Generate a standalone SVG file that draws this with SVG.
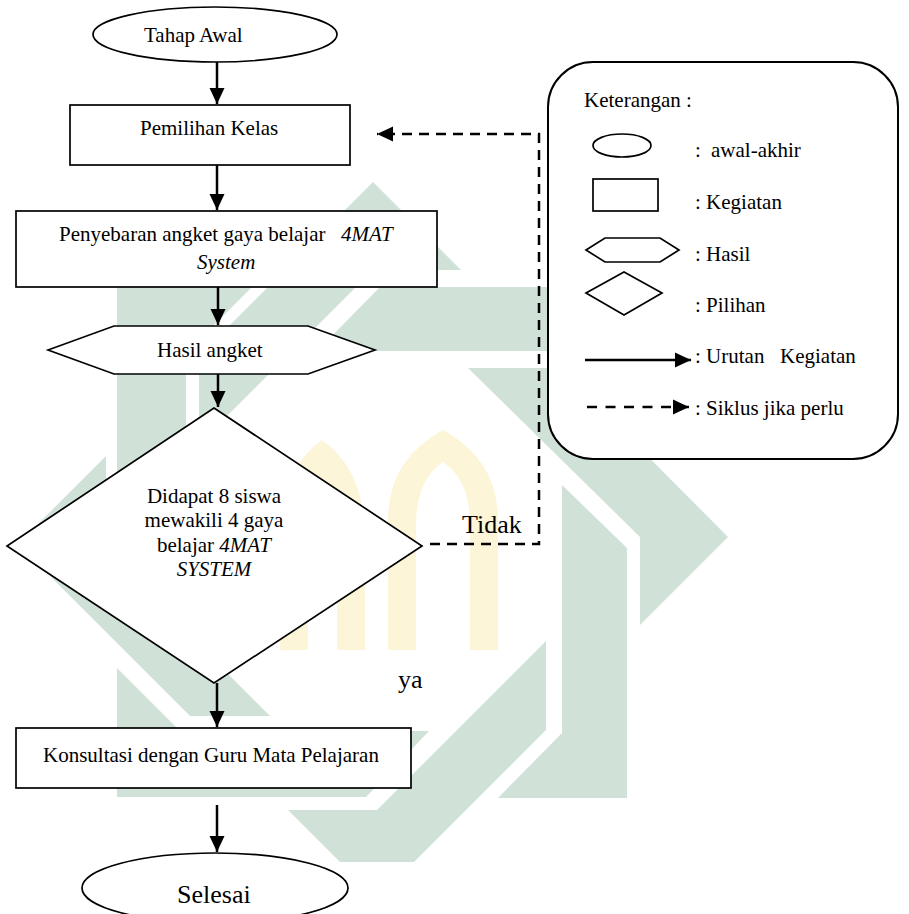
<svg xmlns="http://www.w3.org/2000/svg" width="909" height="914" viewBox="0 0 909 914">
<defs>
<marker id="ah" markerUnits="userSpaceOnUse" markerWidth="16" markerHeight="16" viewBox="0 0 16 16" refX="16" refY="8" orient="auto"><path d="M0,0.5 L16,8 L0,15.5 Z" fill="#000"/></marker>
</defs>
<style>
.wm{fill:#d0e1d8}
.ya{fill:#fcf5d8;fill-rule:evenodd}
.shape{fill:#fff;stroke:#000;stroke-width:1.7}
.t{font-family:"Liberation Serif","Times New Roman","DejaVu Serif",serif;font-size:21px;fill:#000}
.big{font-size:26px}
.it{font-style:italic}
.flow{stroke:#000;stroke-width:2.5;fill:none;marker-end:url(#ah)}
.dash{stroke:#000;stroke-width:2.5;fill:none;stroke-dasharray:10 7;marker-end:url(#ah)}
</style>
<rect x="0" y="0" width="909" height="914" fill="#fff"/>
<g id="watermark">
<polygon class="wm" points="373,182 461,270 373,270 199,444 199,356"/>
<polygon class="wm" points="317,351 380,287 634,287 634,414 571,351"/>
<polygon class="wm" points="468,368 560,368 728,537 640,625 640,537"/>
<polygon class="wm" points="562,485 627,548 627,798 498,798 562,733"/>
<polygon class="wm" points="546,641 546,730 414,862 340,862 288,810 377,810"/>
<polygon class="wm" points="117,668 180,731 429,731 366,797 117,797"/>
<polygon class="wm" points="270,716 190,716 18,544 106,456 106,552"/>
<polygon class="wm" points="117,287 252,287 186,353 186,597 117,528"/>
<path class="ya" d="M280,650 L280,540 Q280,470 322,440 Q365,470 365,540 L365,650 Z M308,650 L308,545 Q308,495 322,478 Q337,495 337,545 L337,650 Z"/>
<path class="ya" d="M388,650 L388,520 Q388,460 443,430 Q498,460 498,520 L498,650 Z M416,650 L416,525 Q416,480 443,462 Q470,480 470,525 L470,650 Z"/>
</g>
<g id="connectors">
<line class="flow" x1="217" y1="62" x2="217" y2="104"/>
<line class="flow" x1="217" y1="165" x2="217" y2="210"/>
<line class="flow" x1="218" y1="287" x2="218" y2="325"/>
<line class="flow" x1="218" y1="374" x2="218" y2="407"/>
<line class="flow" x1="217" y1="683" x2="217" y2="727"/>
<line class="flow" x1="217" y1="805" x2="217" y2="852"/>
<polyline class="dash" points="430,544 539,544 539,134 377,134"/>
<text class="t big" x="462" y="533">Tidak</text>
<text class="t big" x="398" y="688">ya</text>
</g>
<g id="n-start">
<ellipse class="shape" cx="215" cy="34.5" rx="122" ry="27.5"/>
<text class="t" x="144" y="42">Tahap Awal</text>
</g>
<g id="n-pemilihan">
<rect class="shape" x="70" y="105" width="280" height="60"/>
<text class="t" x="140" y="135">Pemilihan Kelas</text>
</g>
<g id="n-penyebaran">
<rect class="shape" x="16" y="211" width="421" height="76"/>
<text class="t" x="59" y="241">Penyebaran angket gaya belajar<tspan class="it" x="341">4MAT</tspan></text>
<text class="t it" x="197" y="269">System</text>
</g>
<g id="n-hasil">
<polygon class="shape" points="48,350 114,326 308,326 375,350 308,374 114,374"/>
<text class="t" x="157" y="357">Hasil angket</text>
</g>
<g id="n-keputusan">
<polygon class="shape" points="214,408 422,546 214,683 7,546"/>
<text class="t" x="214" y="503" text-anchor="middle">Didapat 8 siswa</text>
<text class="t" x="214" y="527" text-anchor="middle">mewakili 4 gaya</text>
<text class="t" x="214" y="552" text-anchor="middle">belajar <tspan class="it">4MAT</tspan></text>
<text class="t it" x="214" y="576" text-anchor="middle">SYSTEM</text>
</g>
<g id="n-konsultasi">
<rect class="shape" x="16" y="728" width="395" height="60"/>
<text class="t" x="43" y="762">Konsultasi dengan Guru Mata Pelajaran</text>
</g>
<g id="n-selesai">
<ellipse class="shape" cx="215" cy="888" rx="133" ry="35"/>
<text class="t big" x="177" y="903">Selesai</text>
</g>
<g id="legend">
<rect class="shape" x="548" y="62" width="350" height="397" rx="45" ry="45" style="stroke-width:2"/>
<text class="t" x="584" y="107">Keterangan :</text>
<ellipse class="shape" cx="622" cy="145.5" rx="29" ry="11.5"/>
<text class="t" x="695" y="157">:<tspan x="711">awal-akhir</tspan></text>
<rect class="shape" x="593" y="179" width="65" height="32"/>
<text class="t" x="695" y="209">: Kegiatan</text>
<polygon class="shape" points="586,250 605,238 660,238 679,250 660,262 605,262"/>
<text class="t" x="695" y="261">: Hasil</text>
<polygon class="shape" points="586,293 624,272 662,293 624,315"/>
<text class="t" x="695" y="312">: Pilihan</text>
<line class="flow" x1="585" y1="360" x2="691" y2="360"/>
<text class="t" x="695" y="363">: Urutan<tspan x="780">Kegiatan</tspan></text>
<line class="dash" x1="587" y1="407" x2="689" y2="407" style="stroke-dasharray:10 8.5"/>
<text class="t" x="695" y="415">: Siklus jika perlu</text>
</g>
</svg>
